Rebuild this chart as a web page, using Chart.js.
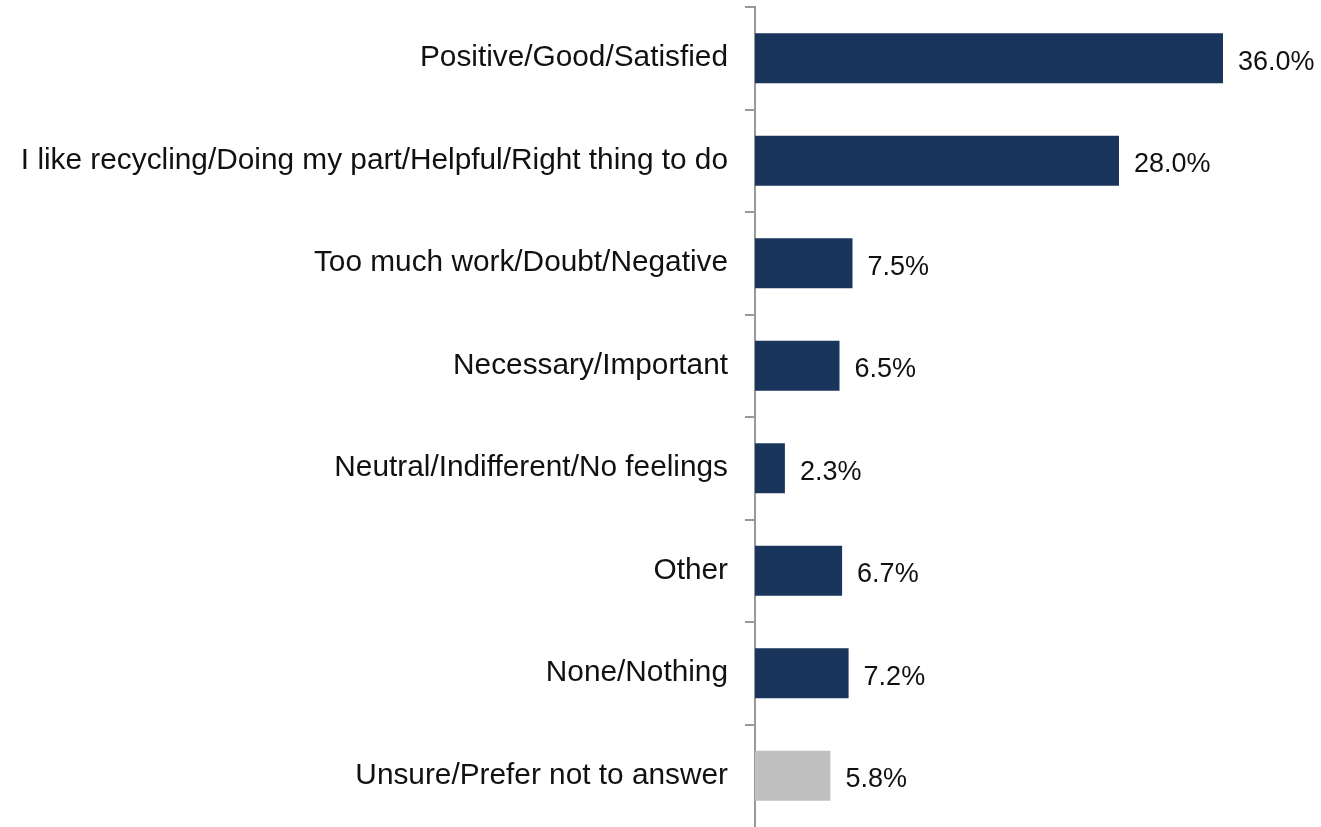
<!DOCTYPE html>
<html>
<head>
<meta charset="utf-8">
<script src="https://cdn.jsdelivr.net/npm/chart.js@4"></script>
<style>
html,body{margin:0;padding:0;background:#fff;}
#wrap{width:1321px;height:827px;position:relative;}
</style>
</head>
<body>
<div id="wrap"><canvas id="c"></canvas></div>
<script>
const categories = [
  "Positive/Good/Satisfied",
  "I like recycling/Doing my part/Helpful/Right thing to do",
  "Too much work/Doubt/Negative",
  "Necessary/Important",
  "Neutral/Indifferent/No feelings",
  "Other",
  "None/Nothing",
  "Unsure/Prefer not to answer"
];
const values = [36.0, 28.0, 7.5, 6.5, 2.3, 6.7, 7.2, 5.8];
const barColors = ["#1a355b","#1a355b","#1a355b","#1a355b","#1a355b","#1a355b","#1a355b","#c0c0c0"];

const valueLabels = {
  id: 'valueLabels',
  afterDatasetsDraw(chart) {
    const ctx = chart.ctx;
    const meta = chart.getDatasetMeta(0);
    ctx.save();
    ctx.font = '27px "Liberation Sans", Arial, sans-serif';
    ctx.fillStyle = '#111';
    ctx.textAlign = 'left';
    ctx.textBaseline = 'middle';
    meta.data.forEach((bar, i) => {
      ctx.fillText(values[i].toFixed(1) + '%', bar.x + 15, bar.y + 4);
    });
    ctx.restore();
  }
};

new Chart(document.getElementById('c'), {
  type: 'bar',
  data: {
    labels: categories,
    datasets: [{
      data: values,
      backgroundColor: barColors,
      barPercentage: 0.49,
      categoryPercentage: 1.0
    }]
  },
  options: {
    indexAxis: 'y',
    responsive: true,
    maintainAspectRatio: false,
    animation: false,
    layout: { padding: { top: 7, right: 46, bottom: 0, left: 0 } },
    plugins: { legend: { display: false }, tooltip: { enabled: false } },
    scales: {
      x: { display: false, min: 0, max: 40 },
      y: {
        afterFit(scale) { scale.width = 755; scale.paddingTop = 0; scale.paddingBottom = 0; },
        border: { display: true, color: '#999', width: 2 },
        grid: {
          offset: true, drawOnChartArea: false, drawTicks: true, tickLength: 10, lineWidth: 2,
          color: (c) => (c.index === undefined || c.index >= categories.length) ? 'rgba(0,0,0,0)' : '#999'
        },
        ticks: { padding: 17, color: '#111', font: { family: '"Liberation Sans", Arial, sans-serif', size: 29.8 } }
      }
    }
  },
  plugins: [valueLabels]
});
</script>
</body>
</html>
